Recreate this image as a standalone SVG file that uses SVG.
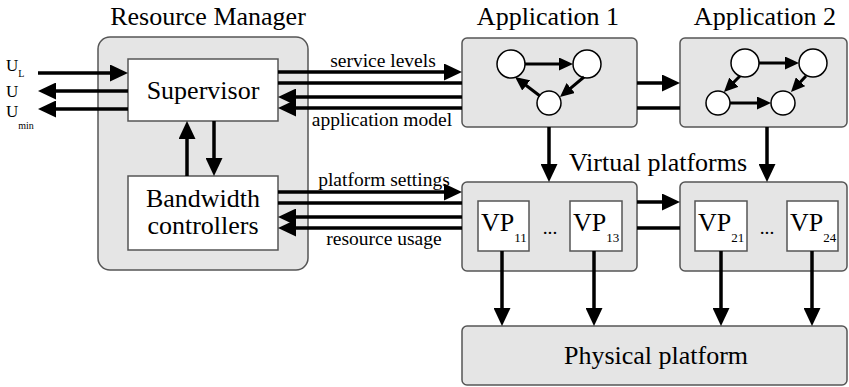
<svg xmlns="http://www.w3.org/2000/svg" width="849" height="387" viewBox="0 0 849 387">
<style>
text{font-family:"Liberation Serif","Times New Roman",serif;fill:#000}
.big{font-size:26px}
.lbl{font-size:19.5px}
.u{font-size:17px}
.sub{font-size:10px}
.grp{fill:#e5e5e5;stroke:#555;stroke-width:1.5}
.wb{fill:#fff;stroke:#555;stroke-width:1.5}
.nd{fill:#fff;stroke:#000;stroke-width:1.5}
.c{stroke:#000;stroke-width:3.5;fill:none}
.a{marker-end:url(#ah)}
.g{stroke:#000;stroke-width:3;fill:none;marker-end:url(#sh)}
</style>
<defs>
<marker id="ah" markerUnits="userSpaceOnUse" markerWidth="18" markerHeight="17" refX="12" refY="8.5" orient="auto"><path d="M0,0 L18,8.5 L0,17 z" fill="#000"/></marker>
<marker id="sh" markerUnits="userSpaceOnUse" markerWidth="14" markerHeight="13" refX="9" refY="6.5" orient="auto"><path d="M0,0 L14,6.5 L0,13 z" fill="#000"/></marker>
</defs>

<g id="resource-manager">
<rect class="grp" x="98" y="37" width="210" height="233" rx="12"/>
<text class="big" x="208" y="25" text-anchor="middle">Resource Manager</text>
</g>
<g id="supervisor">
<rect class="wb" x="128" y="59" width="150" height="62"/>
<text class="big" x="203" y="99" text-anchor="middle">Supervisor</text>
</g>
<g id="bandwidth-controllers">
<rect class="wb" x="128" y="176" width="150" height="74"/>
<text class="big" x="203" y="207" text-anchor="middle">Bandwidth</text>
<text class="big" x="203" y="234" text-anchor="middle">controllers</text>
</g>

<g id="utility-labels">
<text class="u" x="6" y="71">U<tspan class="sub" dy="6">L</tspan></text>
<text class="u" x="6" y="97">U</text>
<text class="u" x="6" y="117">U<tspan class="sub" dy="12">min</tspan></text>
</g>

<g id="application-1">
<rect class="grp" x="462" y="38" width="175" height="89" rx="5"/>
<text class="big" x="548" y="25" text-anchor="middle">Application 1</text>
<circle class="nd" cx="511" cy="64" r="14"/>
<circle class="nd" cx="587" cy="64" r="14"/>
<circle class="nd" cx="549" cy="103" r="12"/>
<line class="g" x1="525" y1="64" x2="568" y2="64"/>
<line class="g" x1="584" y1="77" x2="563.8" y2="93.8"/>
<line class="g" x1="540" y1="96" x2="519" y2="80"/>
</g>

<g id="application-2">
<rect class="grp" x="680" y="38" width="167" height="89" rx="5"/>
<text class="big" x="765" y="25" text-anchor="middle">Application 2</text>
<circle class="nd" cx="745" cy="63" r="14"/>
<circle class="nd" cx="813" cy="63" r="14"/>
<circle class="nd" cx="718" cy="103" r="12"/>
<circle class="nd" cx="783" cy="103" r="12"/>
<line class="g" x1="759" y1="63" x2="794" y2="63"/>
<line class="g" x1="740" y1="76" x2="727.5" y2="88.5"/>
<line class="g" x1="730" y1="103" x2="766" y2="103"/>
<line class="g" x1="806" y1="76" x2="794.4" y2="88.3"/>
</g>

<text class="big" x="658" y="171" text-anchor="middle">Virtual platforms</text>

<g id="virtual-platform-1">
<rect class="grp" x="462" y="182" width="175" height="89" rx="5"/>
<rect class="wb" x="478" y="201" width="51" height="50"/>
<text class="big" x="481" y="231">VP<tspan font-size="13" dy="11">11</tspan></text>
<text class="lbl" x="550" y="234" text-anchor="middle">...</text>
<rect class="wb" x="570" y="201" width="52" height="50"/>
<text class="big" x="573" y="231">VP<tspan font-size="13" dy="11">13</tspan></text>
</g>

<g id="virtual-platform-2">
<rect class="grp" x="680" y="182" width="167" height="89" rx="5"/>
<rect class="wb" x="695" y="201" width="52" height="50"/>
<text class="big" x="698" y="231">VP<tspan font-size="13" dy="11">21</tspan></text>
<text class="lbl" x="767" y="234" text-anchor="middle">...</text>
<rect class="wb" x="787" y="201" width="51" height="50"/>
<text class="big" x="790" y="231">VP<tspan font-size="13" dy="11">24</tspan></text>
</g>

<g id="physical-platform">
<rect class="grp" x="462" y="326" width="385" height="59" rx="5"/>
<text class="big" x="656" y="364" text-anchor="middle">Physical platform</text>
</g>

<g id="connectors">
<line class="c a" x1="38" y1="73" x2="122" y2="73"/>
<line class="c a" x1="128" y1="91" x2="44" y2="91"/>
<line class="c a" x1="128" y1="109" x2="44" y2="109"/>
<line class="c a" x1="214" y1="121" x2="214" y2="170"/>
<line class="c a" x1="187" y1="176" x2="187" y2="127"/>

<line class="c a" x1="278" y1="72" x2="456" y2="72"/>
<line class="c" x1="278" y1="83" x2="462" y2="83"/>
<line class="c a" x1="462" y1="97" x2="284" y2="97"/>
<line class="c a" x1="462" y1="108" x2="284" y2="108"/>
<text class="lbl" x="383" y="67" text-anchor="middle">service levels</text>
<text class="lbl" x="382" y="126" text-anchor="middle">application model</text>

<line class="c a" x1="637" y1="83" x2="674" y2="83"/>
<line class="c" x1="637" y1="108" x2="680" y2="108"/>

<line class="c a" x1="278" y1="192" x2="456" y2="192"/>
<line class="c" x1="278" y1="203" x2="462" y2="203"/>
<line class="c a" x1="462" y1="217" x2="284" y2="217"/>
<line class="c a" x1="462" y1="228" x2="284" y2="228"/>
<text class="lbl" x="384" y="186" text-anchor="middle">platform settings</text>
<text class="lbl" x="384" y="245" text-anchor="middle">resource usage</text>

<line class="c a" x1="637" y1="202" x2="674" y2="202"/>
<line class="c" x1="637" y1="228" x2="680" y2="228"/>

<line class="c a" x1="549" y1="127" x2="549" y2="176"/>
<line class="c a" x1="767" y1="127" x2="767" y2="176"/>

<line class="c a" x1="502" y1="251" x2="502" y2="320"/>
<line class="c a" x1="594" y1="251" x2="594" y2="320"/>
<line class="c a" x1="721" y1="251" x2="721" y2="320"/>
<line class="c a" x1="812" y1="251" x2="812" y2="320"/>
</g>
</svg>
